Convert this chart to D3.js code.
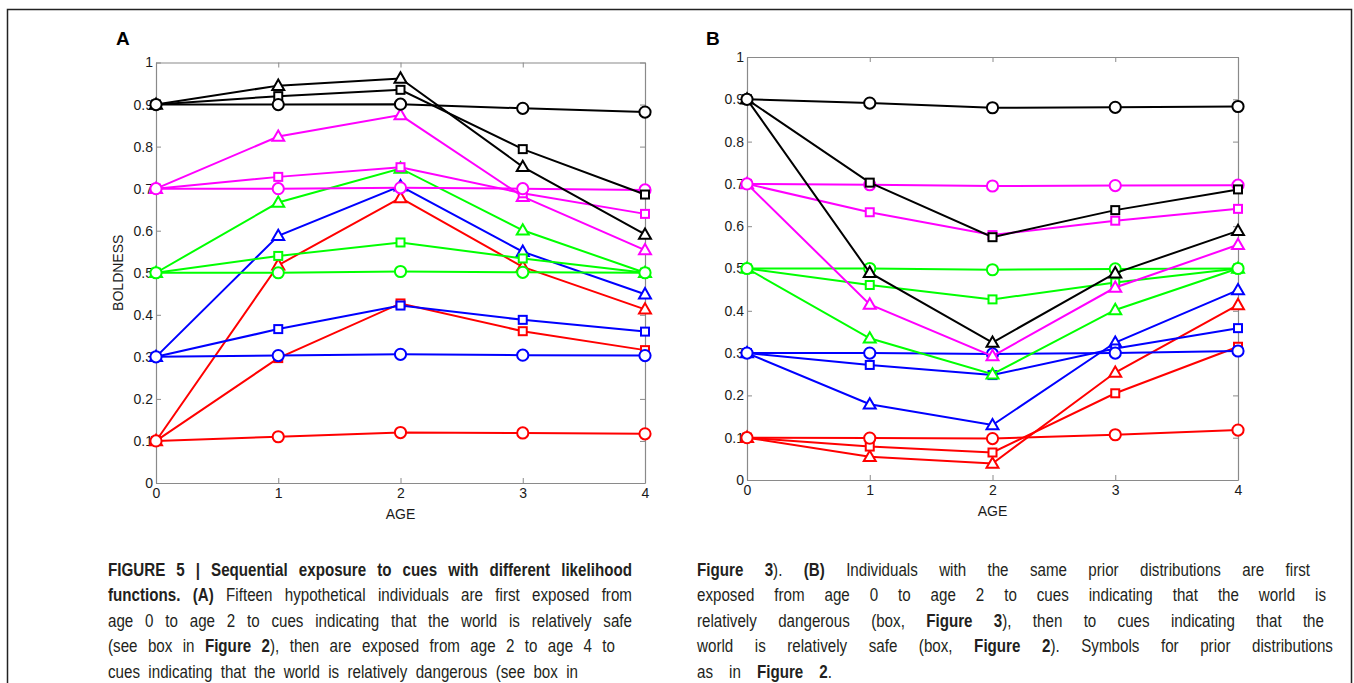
<!DOCTYPE html>
<html>
<head>
<meta charset="utf-8">
<script src="https://cdn.jsdelivr.net/npm/d3@7"></script>
<style>
  body { margin: 0; background: #fff; }
  svg { display: block; }
</style>
</head>
<body>
<svg id="fig" width="1354" height="683"></svg>
<script>
// ages on the x axis and tick values
const ages = [0, 1, 2, 3, 4];
const yTickValues = [0, 0.1, 0.2, 0.3, 0.4, 0.5, 0.6, 0.7, 0.8, 0.9, 1];

// one colour per prior mean (0.9, 0.7, 0.5, 0.3, 0.1)
const priorColors = ["#000000", "#ff00ff", "#00ff00", "#0000ff", "#ff0000"];

// Panel A : safe cues from age 0 to 2, then dangerous cues
const boldnessA_circle = [
  [0.9, 0.900, 0.901, 0.891, 0.882],
  [0.7, 0.700, 0.702, 0.700, 0.697],
  [0.5, 0.500, 0.503, 0.501, 0.500],
  [0.3, 0.303, 0.306, 0.304, 0.303],
  [0.1, 0.110, 0.120, 0.119, 0.117]
];
const boldnessA_square = [
  [0.9, 0.920, 0.935, 0.794, 0.686],
  [0.7, 0.728, 0.751, 0.689, 0.640],
  [0.5, 0.540, 0.572, 0.534, 0.500],
  [0.3, 0.366, 0.422, 0.388, 0.360],
  [0.1, 0.297, 0.427, 0.361, 0.316]
];
const boldnessA_triangle = [
  [0.9, 0.945, 0.962, 0.752, 0.591],
  [0.7, 0.824, 0.875, 0.681, 0.554],
  [0.5, 0.667, 0.748, 0.601, 0.500],
  [0.3, 0.588, 0.706, 0.550, 0.449],
  [0.1, 0.518, 0.678, 0.514, 0.413]
];

// Panel B : dangerous cues first, then safe cues
const boldnessB_circle = [
  [0.9, 0.891, 0.880, 0.881, 0.883],
  [0.7, 0.698, 0.695, 0.696, 0.697],
  [0.5, 0.500, 0.497, 0.499, 0.500],
  [0.3, 0.300, 0.298, 0.300, 0.305],
  [0.1, 0.099, 0.098, 0.107, 0.118]
];
const boldnessB_square = [
  [0.9, 0.703, 0.574, 0.638, 0.687],
  [0.7, 0.633, 0.579, 0.613, 0.641],
  [0.5, 0.461, 0.427, 0.467, 0.500],
  [0.3, 0.272, 0.248, 0.311, 0.359],
  [0.1, 0.079, 0.065, 0.205, 0.315]
];
const boldnessB_triangle = [
  [0.9, 0.490, 0.325, 0.489, 0.589],
  [0.7, 0.415, 0.293, 0.455, 0.556],
  [0.5, 0.335, 0.250, 0.402, 0.500],
  [0.3, 0.179, 0.130, 0.325, 0.449],
  [0.1, 0.055, 0.039, 0.254, 0.414]
];

// caption lines: [text, bold], w = justified width
const captionLeft = [
  { w: 524, parts: [["FIGURE 5 | Sequential exposure to cues with different likelihood", true]] },
  { w: 524, parts: [["functions. (A)", true], [" Fifteen hypothetical individuals are first exposed from", false]] },
  { w: 524, parts: [["age 0 to age 2 to cues indicating that the world is relatively safe", false]] },
  { w: 507, parts: [["(see box in ", false], ["Figure 2", true], ["), then are exposed from age 2 to age 4 to", false]] },
  { w: 470, parts: [["cues indicating that the world is relatively dangerous (see box in", false]] }
];
const captionRight = [
  { w: 613, parts: [["Figure 3", true], ["). ", false], ["(B)", true], [" Individuals with the same prior distributions are first", false]] },
  { w: 629, parts: [["exposed from age 0 to age 2 to cues indicating that the world is", false]] },
  { w: 627, parts: [["relatively dangerous (box, ", false], ["Figure 3", true], ["), then to cues indicating that the", false]] },
  { w: 636, parts: [["world is relatively safe (box, ", false], ["Figure 2", true], ["). Symbols for prior distributions", false]] },
  { w: 135, parts: [["as in ", false], ["Figure 2", true], [".", false]] }
];

const svg = d3.select("#fig");
const tickFont = "'Liberation Sans', Arial, Helvetica, sans-serif";
const tickSize = 14;

// outer frame of the figure
svg.append("path")
  .attr("d", "M7.5,683 V9.5 H1351.5 V683")
  .attr("fill", "none")
  .attr("stroke", "#222")
  .attr("stroke-width", 1.5);

function drawPanel(cfg) {
  const x = d3.scaleLinear().domain([0, 4]).range([cfg.left, cfg.right]);
  const y = d3.scaleLinear().domain([0, 1]).range([cfg.bottom, cfg.top]);
  const g = svg.append("g");

  // box with inward ticks, MATLAB style
  const axes = [
    [d3.axisLeft(y).tickValues(yTickValues).tickFormat(d => String(d)), `translate(${cfg.left},0)`, 3],
    [d3.axisBottom(x).tickValues(ages).tickFormat(d => String(d)), `translate(0,${cfg.bottom})`, 5],
    [d3.axisRight(y).tickValues(yTickValues).tickFormat(""), `translate(${cfg.right},0)`, 3],
    [d3.axisTop(x).tickValues(ages).tickFormat(""), `translate(0,${cfg.top})`, 3]
  ];
  axes.forEach(([ax, tr, pad]) => {
    const a = g.append("g")
      .attr("transform", tr)
      .call(ax.tickSizeInner(-5).tickSizeOuter(0).tickPadding(pad))
      .attr("font-family", tickFont)
      .attr("font-size", tickSize);
    a.select(".domain").attr("stroke", "#8a8a8a").attr("stroke-width", 1.2);
    a.selectAll(".tick line").attr("stroke", "#8a8a8a");
    a.selectAll(".tick text").attr("fill", "#1a1a1a");
  });

  g.append("text")
    .attr("x", (cfg.left + cfg.right) / 2)
    .attr("y", cfg.bottom + 36)
    .attr("text-anchor", "middle")
    .attr("font-family", tickFont)
    .attr("font-size", tickSize)
    .attr("fill", "#1a1a1a")
    .text("AGE");

  if (cfg.ylabel) {
    g.append("text")
      .attr("transform", `translate(${cfg.left - 33},${(cfg.top + cfg.bottom) / 2}) rotate(-90)`)
      .attr("text-anchor", "middle")
      .attr("font-family", tickFont)
      .attr("font-size", tickSize)
      .attr("fill", "#1a1a1a")
      .text(cfg.ylabel);
  }

  g.append("text")
    .attr("x", cfg.labelX)
    .attr("y", 45)
    .attr("font-family", tickFont)
    .attr("font-weight", "bold")
    .attr("font-size", 19)
    .text(cfg.letter);

  const line = d3.line().x((d, i) => x(ages[i])).y(d => y(d));
  const shapes = [
    ["triangle", cfg.triangle],
    ["square", cfg.square],
    ["circle", cfg.circle]
  ];

  // colour groups from red up to black, circles last inside each group
  d3.range(4, -1, -1).forEach(ci => {
    const col = priorColors[ci];
    shapes.forEach(([shape, rows]) => {
      const vals = rows[ci];
      const s = g.append("g");
      s.append("path")
        .attr("d", line(vals))
        .attr("fill", "none")
        .attr("stroke", col)
        .attr("stroke-width", 2);
      let marks;
      if (shape === "circle") {
        marks = s.selectAll("circle").data(vals).join("circle")
          .attr("cx", (d, i) => x(ages[i]))
          .attr("cy", d => y(d))
          .attr("r", 5.6);
      } else if (shape === "square") {
        marks = s.selectAll("rect").data(vals).join("rect")
          .attr("x", (d, i) => x(ages[i]) - 4)
          .attr("y", d => y(d) - 4)
          .attr("width", 8)
          .attr("height", 8);
      } else {
        marks = s.selectAll("path.mk").data(vals).join("path")
          .attr("class", "mk")
          .attr("d", d3.symbol(d3.symbolTriangle, 62))
          .attr("transform", (d, i) => `translate(${x(ages[i])},${y(d) + 0.8})`);
      }
      marks.attr("fill", "#fff").attr("stroke", col).attr("stroke-width", 2);
    });
  });
}

drawPanel({
  left: 156, right: 645, top: 62.5, bottom: 483, labelX: 116, letter: "A",
  ylabel: "BOLDNESS",
  circle: boldnessA_circle, square: boldnessA_square, triangle: boldnessA_triangle
});
drawPanel({
  left: 747, right: 1238, top: 57, bottom: 480, labelX: 706, letter: "B",
  ylabel: null,
  circle: boldnessB_circle, square: boldnessB_square, triangle: boldnessB_triangle
});

// justified caption text, a condensed sans imitated with a horizontal squeeze
const capFont = "'Liberation Sans', Arial, sans-serif";
const squeeze = 0.82;
function drawCaption(lines, x0, y0, lineH) {
  lines.forEach((ln, li) => {
    const words = [];
    let cur = null;
    ln.parts.forEach(([t, b]) => {
      t.split(" ").forEach((p, i) => {
        if (i > 0) cur = null;
        if (p === "") return;
        if (!cur) { cur = []; words.push(cur); }
        cur.push([p, b]);
      });
    });
    const yy = y0 + li * lineH;
    const nodes = words.map(w => {
      const t = svg.append("text")
        .attr("font-family", capFont)
        .attr("font-size", 18.5)
        .attr("fill", "#231f20");
      w.forEach(([p, b]) => {
        t.append("tspan").attr("font-weight", b ? "bold" : "normal").text(p);
      });
      return t;
    });
    const widths = nodes.map(n => n.node().getComputedTextLength() * squeeze);
    const total = d3.sum(widths);
    const gap = Math.max(4, (ln.w - total) / (nodes.length - 1));
    let xx = x0;
    nodes.forEach((n, i) => {
      n.attr("transform", `translate(${xx},${yy}) scale(${squeeze},1)`);
      xx += widths[i] + gap;
    });
  });
}
drawCaption(captionLeft, 108, 576, 25.4);
drawCaption(captionRight, 697, 576, 25.4);
</script>
</body>
</html>
